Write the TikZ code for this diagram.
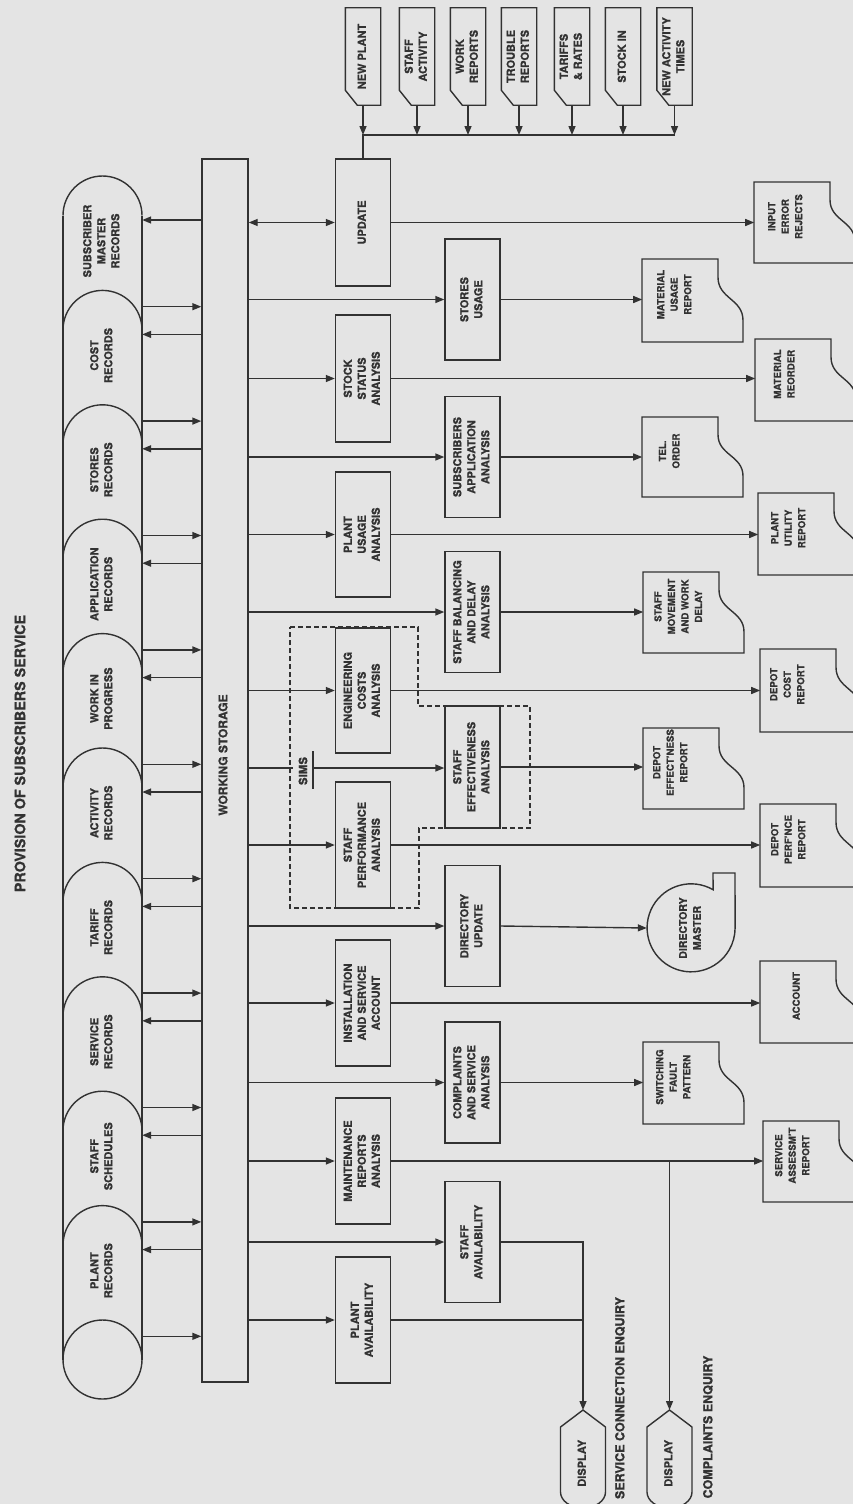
\documentclass[tikz,border=0pt]{standalone}
\usepackage{fontspec}
\usepackage{graphicx}
\setmainfont{TeX Gyre Heros}[FakeBold=0.9]
\usetikzlibrary{arrows.meta,calc}
\definecolor{bg}{RGB}{228,228,228}
\definecolor{ink}{RGB}{50,50,50}
\newcommand\vtxt[1]{\rotatebox{90}{\begin{tabular}{@{}c@{}}#1\end{tabular}}}
\newcommand\fproc{\bfseries\fontsize{11}{14}\selectfont}
\newcommand\fdoc{\bfseries\fontsize{9.7}{13.5}\selectfont}
\newcommand\fttl{\bfseries\fontsize{14.3}{17}\selectfont}
\newcommand\fws{\bfseries\fontsize{12}{14}\selectfont}
\newcommand\flab{\bfseries\fontsize{12.5}{15}\selectfont}
\newcommand\fdm{\bfseries\fontsize{10.5}{14}\selectfont}
\newcommand\fsims{\bfseries\fontsize{11.5}{14}\selectfont}
\tikzset{
  ln/.style={draw=ink, line width=1.4pt},
  arr/.style={ln, -{Triangle[length=9pt,width=7pt]}},
  darr/.style={ln, {Triangle[length=9pt,width=7pt]}-{Triangle[length=9pt,width=7pt]}},
  proc/.style={ln, rectangle, inner sep=0pt, minimum width=55pt, text=ink, font=\fproc},
  lproc/.style={proc, minimum height=126pt},
  rproc/.style={proc, minimum height=121pt},
  card/.style={rectangle, inner sep=0pt, minimum width=35pt, minimum height=97pt, text=ink, font=\fproc},
  txt/.style={inner sep=0pt, text=ink, font=\fproc},
  doct/.style={inner sep=0pt, text=ink, font=\fdoc},
  hole/.style={inner sep=0pt, minimum size=0pt},
  dashedline/.style={draw=ink, line width=1.4pt, dash pattern=on 5pt off 3pt},
}
% input card: name, centre x, text
\newcommand\cardnode[3]{%
  \node[card] (#1) at (#2,56.5) {\vtxt{#3}};
  \draw[ln] (#1.north west) -- (#1.north east) -- (#1.south east) -- ([xshift=12pt]#1.south west) -- ([yshift=15pt]#1.south west) -- cycle;
  \draw[arr] (#1.south) -- (#1.south |- busL);
}
% document: name, L, T, B, text x offset, text
\newcommand\docu[6]{%
  \node[hole, anchor=west] (#1) at (#2,{(#3+#4)/2}) {};
  \draw[ln] ({#2+76},#3) -- (#2,#3) -- (#2,#4) -- ({#2+101},#4) -- ({#2+101},{#3+0.74*(#4-#3)}) .. controls ({#2+101},{#3+0.48*(#4-#3)}) and ({#2+76},{#3+0.48*(#4-#3)}) .. ({#2+76},{#3+0.22*(#4-#3)}) -- cycle;
  \node[doct] (#1t) at ({#2+#5},{(#3+#4)/2-6}) {\vtxt{#6}};
}
% record: index, text
\newcommand\record[2]{%
  \pgfmathsetmacro\ap{176+114.4*#1}%
  \node[hole, minimum width=79pt, minimum height=114.4pt, anchor=north] (r#1) at (102.5,\ap) {};
  \node[txt] (r#1t) at (102.5,\ap+65) {\vtxt{#2}};
  \draw[ln] (142,\ap+39.5) arc[start angle=0,end angle=180,radius=39.5pt];
  \coordinate (r#1in) at ($(r#1.north east)+(0,44)$);
  \coordinate (r#1out) at ($(r#1.north east)+(0,130.7)$);
  \draw[arr] (ws.west |- r#1in) -- (r#1in);
  \draw[arr] (r#1out) -- (ws.west |- r#1out);
}
% display: name, centre x, text
\newcommand\dispnode[3]{%
  \node[hole, minimum width=45pt, minimum height=106pt, anchor=north, font=\fproc, text=ink] (#1) at (#2,1410) {\vtxt{#3}};
  \draw[ln] (#1.north) -- ($(#1.north)+(22.5,17)$) -- ($(#1.north)+(22.5,82)$) arc[start angle=0, end angle=-180, x radius=22.5pt, y radius=16pt] -- ($(#1.north)+(-22.5,17)$) -- cycle;
}
\begin{document}
\begin{tikzpicture}[x=1pt,y=-1pt]
\useasboundingbox (0,0) rectangle (853,1504);
\fill[bg] (0,0) rectangle (853,1504);
\clip (0,0) rectangle (853,1504);

% title
\node[txt, font=\fttl] (title) at (20,753.5) {\rotatebox{90}{PROVISION OF SUBSCRIBERS SERVICE}};

% working storage
\node[ln, rectangle, inner sep=0pt, minimum width=46pt, minimum height=1223pt] (ws) at (225,770.5) {};
\node[txt, font=\fws] (wst) at (223,755) {\rotatebox{90}{WORKING STORAGE}};

% records stack
\draw[ln] (63,215.5) -- (63,1359.5);
\draw[ln] (142,215.5) -- (142,1359.5);
\node[ln, circle, inner sep=0pt, minimum size=79pt] (rbot) at (102.5,1359.5) {};
\record{0}{SUBSCRIBER\\MASTER\\RECORDS}
\record{1}{COST\\RECORDS}
\record{2}{STORES\\RECORDS}
\record{3}{APPLICATION\\RECORDS}
\record{4}{WORK IN\\PROGRESS}
\record{5}{ACTIVITY\\RECORDS}
\record{6}{TARIFF\\RECORDS}
\record{7}{SERVICE\\RECORDS}
\record{8}{STAFF\\SCHEDULES}
\record{9}{PLANT\\RECORDS}

% SIMS dashed boundary
\draw[dashedline] (290,627) -- (418,627) -- (418,706) -- (530,706) -- (530,828) -- (419,828) -- (419,908) -- (290,908) -- cycle;

% processes, first column
\node[lproc, minimum height=127pt] (upd) at (363,222.5) {\vtxt{UPDATE}};
\node[lproc, minimum height=127pt] (ssa) at (363,378.5) {\vtxt{STOCK\\STATUS\\ANALYSIS}};
\node[lproc, minimum height=125pt] (pua) at (363,534.5) {\vtxt{PLANT\\USAGE\\ANALYSIS}};
\node[lproc, minimum height=125pt] (eca) at (363,690.5) {\vtxt{ENGINEERING\\COSTS\\ANALYSIS}};
\node[lproc] (spa) at (363,845) {\vtxt{STAFF\\PERFORMANCE\\ANALYSIS}};
\node[lproc] (isa) at (363,1003) {\vtxt{INSTALLATION\\AND SERVICE\\ACCOUNT}};
\node[lproc] (mra) at (363,1161) {\vtxt{MAINTENANCE\\REPORTS\\ANALYSIS}};
\node[lproc] (pav) at (363,1320) {\vtxt{PLANT\\AVAILABILITY}};

% processes, second column
\node[rproc] (sus) at (472.5,299.5) {\vtxt{STORES\\USAGE}};
\node[rproc] (saa) at (472.5,457) {\vtxt{SUBSCRIBERS\\APPLICATION\\ANALYSIS}};
\node[rproc] (sbd) at (472.5,612) {\vtxt{STAFF BALANCING\\AND DELAY\\ANALYSIS}};
\node[rproc, minimum height=122pt] (sea) at (472.5,767) {\vtxt{STAFF\\EFFECTIVENESS\\ANALYSIS}};
\node[rproc] (dup) at (472.5,926) {\vtxt{DIRECTORY\\UPDATE}};
\node[rproc] (csa) at (472.5,1082.5) {\vtxt{COMPLAINTS\\AND SERVICE\\ANALYSIS}};
\node[rproc] (sav) at (472.5,1242) {\vtxt{STAFF\\AVAILABILITY}};

% input cards and bus
\coordinate (busL) at (363,135);
\coordinate (busR) at (674.5,135);
\draw[ln] (busR) -- (busL) -- (upd.north);
\cardnode{np}{363}{NEW PLANT}
\cardnode{sact}{417}{STAFF\\ACTIVITY}
\cardnode{wr}{468}{WORK\\REPORTS}
\cardnode{tr}{519}{TROUBLE\\REPORTS}
\cardnode{tar}{572}{TARIFFS\\\& RATES}
\cardnode{sin}{623}{STOCK IN}
\cardnode{nat}{674.5}{NEW ACTIVITY\\TIMES}

% output documents
\docu{mur}{642}{259}{342}{33}{MATERIAL\\USAGE\\REPORT}
\docu{tel}{642}{417}{497}{28}{TEL.\\ORDER}
\docu{smw}{643}{572}{653}{36}{STAFF\\MOVEMENT\\AND WORK\\DELAY}
\docu{der}{643}{728}{809}{28}{DEPOT\\EFFECT'NESS\\REPORT}
\docu{sfp}{643}{1042}{1124}{31}{SWITCHING\\FAULT\\PATTERN}
\docu{ier}{754}{182}{263}{32}{INPUT\\ERROR\\REJECTS}
\docu{mro}{755}{339}{421}{30}{MATERIAL\\REORDER}
\docu{pur}{758}{493}{575}{31}{PLANT\\UTILITY\\REPORT}
\docu{dcr}{760}{649}{732}{28}{DEPOT\\COST\\REPORT}
\docu{dpr}{760}{804}{887}{29}{DEPOT\\PERF'NCE\\REPORT}
\docu{acc}{760}{961}{1043}{37}{ACCOUNT}
\docu{sar}{763}{1121}{1202}{30}{SERVICE\\ASSESSM'T\\REPORT}

% directory master (tape)
\node[circle, inner sep=0pt, minimum size=88pt, text=ink, font=\fdm] (dm) at (691,928) {\vtxt{DIRECTORY\\MASTER}};
\draw[ln] (dm.60) arc[start angle=60,end angle=360,radius=44pt] -- ($(dm.center)+(44,-55)$) -- ($(dm.center)+(22,-55)$) -- cycle;

% displays
\dispnode{disp1}{583}{DISPLAY}
\dispnode{disp2}{669.5}{DISPLAY}
\node[txt, font=\flab] (lab1) at (620,1398) {\rotatebox{90}{SERVICE CONNECTION ENQUIRY}};
\node[txt, font=\flab] (lab2) at (708,1427) {\rotatebox{90}{COMPLAINTS ENQUIRY}};

% connectors: working storage to processes
\draw[darr] (ws.east |- upd) -- (upd.west);
\draw[arr] (ws.east |- sus) -- (sus.west);
\draw[arr] (ws.east |- ssa) -- (ssa.west);
\draw[arr] (ws.east |- saa) -- (saa.west);
\draw[arr] (ws.east |- pua) -- (pua.west);
\draw[arr] (ws.east |- sbd) -- (sbd.west);
\draw[arr] (ws.east |- eca) -- (eca.west);
\node[txt, font=\fsims] (sims) at (303,771) {\rotatebox{90}{SIMS}};
\coordinate (simsbar) at (313,768);
\draw[ln] (ws.east |- simsbar) -- (293,768);
\draw[ln] ($(simsbar)+(0,-17)$) -- ($(simsbar)+(0,21)$);
\draw[arr] (simsbar) -- (simsbar -| sea.west);
\draw[arr] (ws.east |- spa) -- (spa.west);
\draw[arr] (ws.east |- dup) -- (dup.west);
\draw[arr] (ws.east |- isa) -- (isa.west);
\draw[arr] (ws.east |- csa) -- (csa.west);
\draw[arr] (ws.east |- mra) -- (mra.west);
\draw[arr] (ws.east |- sav) -- (sav.west);
\draw[arr] (ws.east |- pav) -- (pav.west);

% connectors: processes to outputs
\draw[arr] (upd.east) -- (upd.east -| ier);
\draw[arr] (sus.east) -- (sus.east -| mur);
\draw[arr] (ssa.east) -- (ssa.east -| mro);
\draw[arr] (saa.east) -- (saa.east -| tel);
\draw[arr] (pua.east) -- (pua.east -| pur);
\draw[arr] (sbd.east) -- (sbd.east -| smw);
\draw[arr] (eca.east) -- (eca.east -| dcr);
\draw[arr] (sea.east) -- (sea.east -| der);
\draw[arr] (spa.east) -- (spa.east -| dpr);
\draw[arr] (dup.east) -- (dm.west);
\draw[arr] (isa.east) -- (isa.east -| acc);
\draw[arr] (csa.east) -- (csa.east -| sfp);
\draw[arr] (mra.east) -- (mra.east -| sar);
\draw[arr] (mra.east -| disp2.north) -- (disp2.north);
\draw[arr] (sav.east) -| (disp1.north);
\draw[ln] (pav.east) -- (pav.east -| disp1.north);
\end{tikzpicture}
\end{document}
